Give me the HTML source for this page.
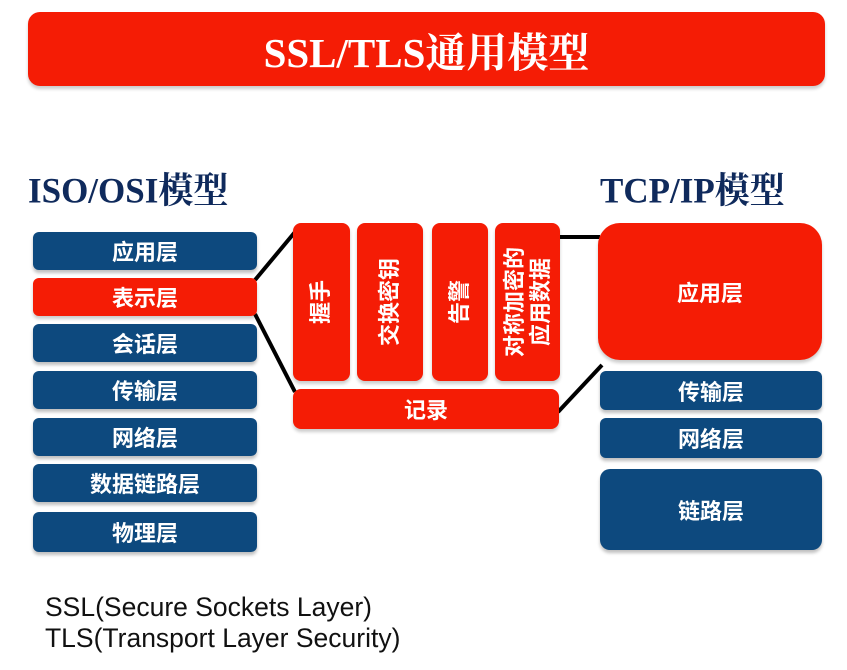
<!DOCTYPE html>
<html><head><meta charset="utf-8"><style>
body{margin:0;width:847px;height:670px;background:#fff;position:relative;overflow:hidden;font-family:"Liberation Sans","Noto Sans CJK SC",sans-serif}
.a{position:absolute;box-sizing:border-box;display:flex;align-items:center;justify-content:center;color:#fff;font-weight:bold}
.b{background:#0d497e;border-radius:6px;font-size:22px;box-shadow:0 3px 3px rgba(0,0,0,.25)}
.r{background:#f51c05;border-radius:8px;box-shadow:0 3px 3px rgba(0,0,0,.2)}
.v{font-size:22px;line-height:26px;text-align:center}
.v span{transform:rotate(-90deg);white-space:nowrap;display:block}
.h{position:absolute;font-family:"Liberation Serif","Noto Serif CJK SC",serif;font-weight:bold;color:#0f2a5c;font-size:35px;transform:scaleY(1.02)}
.t{position:absolute;left:45px;font-size:26.5px;color:#111}
</style></head><body>
<div class="a r" style="left:28px;top:12px;width:797px;height:74px;border-radius:12px;font-family:'Liberation Serif','Noto Serif CJK SC',serif;font-size:41px">SSL/TLS通用模型</div>
<div class="h" style="left:28px;top:163px">ISO/OSI模型</div>
<div class="h" style="left:600px;top:163px">TCP/IP模型</div>
<svg style="position:absolute;left:0;top:0" width="847" height="670"><g stroke="#000" stroke-width="4" fill="none">
<line x1="255" y1="280" x2="295" y2="232"/><line x1="255" y1="314" x2="295" y2="392"/>
<line x1="558" y1="237" x2="600" y2="237"/><line x1="558" y1="412" x2="602" y2="365"/></g></svg>
<div class="a b" style="left:33px;top:232px;width:224px;height:38px">应用层</div>
<div class="a r" style="left:33px;top:278px;width:224px;height:38px;border-radius:6px;font-size:22px">表示层</div>
<div class="a b" style="left:33px;top:324px;width:224px;height:38px">会话层</div>
<div class="a b" style="left:33px;top:371px;width:224px;height:38px">传输层</div>
<div class="a b" style="left:33px;top:418px;width:224px;height:38px">网络层</div>
<div class="a b" style="left:33px;top:464px;width:224px;height:38px">数据链路层</div>
<div class="a b" style="left:33px;top:512px;width:224px;height:40px">物理层</div>
<div class="a r v" style="left:293px;top:223px;width:57px;height:158px"><span>握手</span></div>
<div class="a r v" style="left:357px;top:223px;width:66px;height:158px"><span>交换密钥</span></div>
<div class="a r v" style="left:432px;top:223px;width:56px;height:158px"><span>告警</span></div>
<div class="a r v" style="left:495px;top:223px;width:65px;height:158px"><span>对称加密的<br>应用数据</span></div>
<div class="a r" style="left:293px;top:389px;width:266px;height:40px;font-size:22px">记录</div>
<div class="a r" style="left:598px;top:223px;width:224px;height:137px;border-radius:22px;font-size:22px">应用层</div>
<div class="a b" style="left:600px;top:371px;width:222px;height:39px">传输层</div>
<div class="a b" style="left:600px;top:418px;width:222px;height:40px">网络层</div>
<div class="a b" style="left:600px;top:469px;width:222px;height:81px;border-radius:10px">链路层</div>
<div class="t" style="top:592px">SSL(Secure Sockets Layer)</div>
<div class="t" style="top:623px">TLS(Transport Layer Security)</div>
</body></html>
